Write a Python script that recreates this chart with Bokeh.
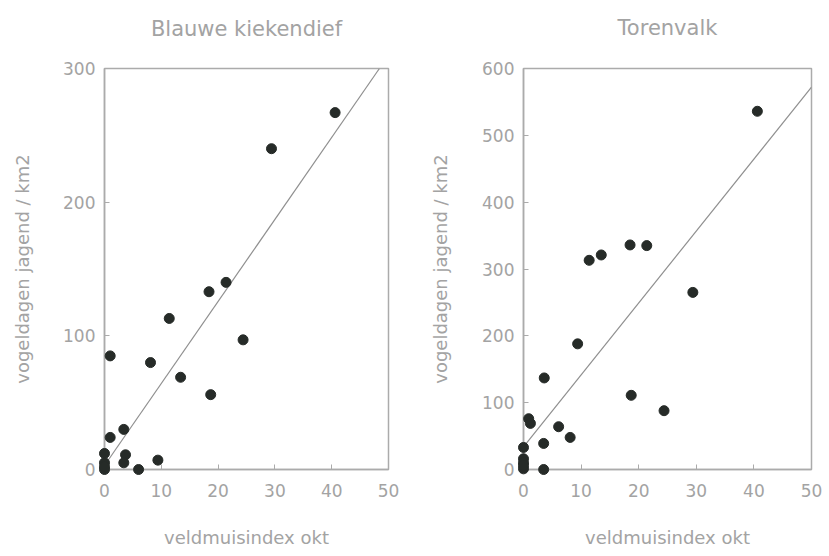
from bokeh.plotting import figure
from bokeh.layouts import row
from bokeh.models import Range1d, FixedTicker, Title
from bokeh.embed import file_html
from bokeh.resources import INLINE

# ---- data ----
x_ticks = [0, 10, 20, 30, 40, 50]

blauw_title = "Blauwe kiekendief"
blauw_x = [40.6, 29.4, 21.4, 18.4, 11.4, 24.4, 1.0, 8.1, 13.4, 18.7,
           3.4, 1.0, 0.0, 3.7, 3.4, 0.0, 0.0, 6.0, 9.4, 0.0]
blauw_y = [267, 240, 140, 133, 113, 97, 85, 80, 69, 56,
           30, 24, 12, 11, 5, 5, 0, 0, 7, 2]
blauw_line_x = [0, 48.4]
blauw_line_y = [3, 300]
blauw_y_ticks = [0, 100, 200, 300]

toren_title = "Torenvalk"
toren_x = [40.6, 29.4, 18.5, 21.4, 13.5, 11.4, 9.4, 3.6, 18.7, 24.4,
           0.9, 1.2, 6.1, 8.1, 3.5, 0.0, 0.0, 0.0, 0.0, 3.5, 0.0]
toren_y = [536, 265, 336, 335, 321, 313, 188, 137, 111, 88,
           76, 69, 64, 48, 39, 33, 16, 10, 1, 0, 6]
toren_line_x = [0, 50]
toren_line_y = [34, 572]
toren_y_ticks = [0, 100, 200, 300, 400, 500, 600]

x_label = "veldmuisindex okt"
y_label = "vogeldagen jagend / km2"

FONT = "DejaVu Sans"
TXT = "#a3a3a3"
FRAME = "#ababab"
DOT = "#262b28"


def make_fig(title, xs, ys, lx, ly, yticks, width, height, bl, br, bt, bb,
             gap, ylab_standoff):
    p = figure(width=width, height=height, output_backend="svg",
               toolbar_location=None,
               x_range=Range1d(0, 50), y_range=Range1d(0, yticks[-1]),
               min_border_left=bl, min_border_right=br,
               min_border_top=bt, min_border_bottom=bb)
    p.title.text = ""
    # spacer between frame and the title, then the title itself
    p.add_layout(Title(text=" ", text_font_size="2px", standoff=gap), "above")
    p.add_layout(Title(text=title, align="center", vertical_align="top",
                       text_font=FONT, text_font_style="normal",
                       text_font_size="21px", text_color=TXT, standoff=10),
                 "above")

    p.grid.visible = False
    p.outline_line_color = FRAME
    p.outline_line_width = 1.5
    p.background_fill_color = "white"
    p.border_fill_color = "white"

    for ax in (p.xaxis[0], p.yaxis[0]):
        ax.axis_line_color = FRAME
        ax.axis_line_width = 1.5
        ax.major_tick_line_color = FRAME
        ax.major_tick_in = 5
        ax.major_tick_out = 0
        ax.minor_tick_line_color = None
        ax.major_label_text_font = FONT
        ax.major_label_text_font_size = "17px"
        ax.major_label_text_color = TXT
        ax.axis_label_text_font = FONT
        ax.axis_label_text_font_size = "18px"
        ax.axis_label_text_font_style = "normal"
        ax.axis_label_text_color = TXT

    p.xaxis.ticker = FixedTicker(ticks=x_ticks)
    p.yaxis.ticker = FixedTicker(ticks=yticks)
    p.xaxis.axis_label = x_label
    p.yaxis.axis_label = y_label
    p.xaxis.major_label_standoff = 14
    p.xaxis.axis_label_standoff = 27
    p.yaxis.major_label_standoff = 9
    p.yaxis.axis_label_standoff = ylab_standoff

    p.line(lx, ly, line_color="#8f8f8f", line_width=1.2)
    r = p.scatter(xs, ys, size=10, fill_color=DOT, line_color=DOT)
    r.level = "overlay"
    return p


p1 = make_fig(blauw_title, blauw_x, blauw_y, blauw_line_x, blauw_line_y,
              blauw_y_ticks, 415, 556, 104, 27, 68, 87, 17, 27)
p2 = make_fig(toren_title, toren_x, toren_y, toren_line_x, toren_line_y,
              toren_y_ticks, 414, 556, 108, 18, 65, 84, 18, 28)

layout = row(p1, p2)
open("out.html", "w").write(file_html(layout, INLINE))
